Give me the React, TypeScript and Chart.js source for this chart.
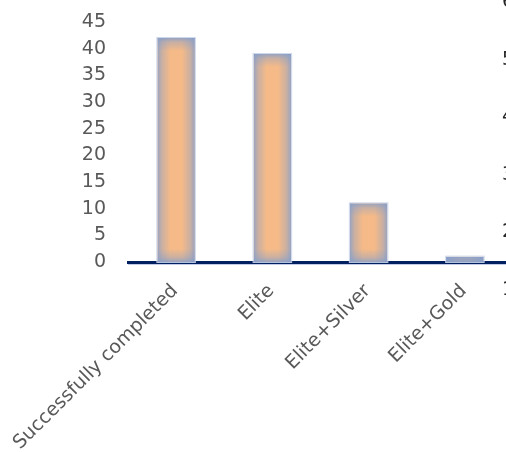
import React, { useEffect, useRef } from "react";
import { Chart, registerables } from "chart.js";

Chart.register(...registerables);

const categories = ["Successfully completed", "Elite", "Elite+Silver", "Elite+Gold"];
const values = [42, 39, 11, 1];
const yMin = 0;
const yMax = 45;
const yStep = 5;
// clipped tick labels of a neighbouring chart, visible at the right edge
const neighbourTicks = ["6", "5", "4", "3", "2", "1"];

const FONT = "'DejaVu Sans', sans-serif";

function edgeGrad(ctx: any, x0: number, y0: number, x1: number, y1: number) {
  const grad = ctx.createLinearGradient(x0, y0, x1, y1);
  grad.addColorStop(0, "rgba(130,158,205,0.8)");
  grad.addColorStop(0.35, "rgba(130,158,205,0.38)");
  grad.addColorStop(1, "rgba(130,158,205,0)");
  return grad;
}

const glowPlugin = {
  id: "barGlow",
  afterDatasetsDraw(chart: any) {
    const ctx = chart.ctx;
    const meta = chart.getDatasetMeta(0);
    meta.data.forEach((el: any) => {
      const { x, y, base, width } = el.getProps(["x", "y", "base", "width"], true);
      const left = x - width / 2;
      const right = x + width / 2;
      const top = Math.min(y, base);
      const bottom = Math.max(y, base);
      const h = bottom - top;
      const g = 13;
      ctx.save();
      ctx.beginPath();
      ctx.rect(left, top, right - left, h);
      ctx.clip();
      ctx.fillStyle = edgeGrad(ctx, left, 0, left + g, 0);
      ctx.fillRect(left, top, g, h);
      ctx.fillStyle = edgeGrad(ctx, right, 0, right - g, 0);
      ctx.fillRect(right - g, top, g, h);
      ctx.fillStyle = edgeGrad(ctx, 0, top, 0, top + g);
      ctx.fillRect(left, top, right - left, Math.min(g, h));
      ctx.fillStyle = edgeGrad(ctx, 0, bottom, 0, bottom - g);
      ctx.fillRect(left, Math.max(top, bottom - g), right - left, Math.min(g, h));
      ctx.restore();
      ctx.save();
      ctx.strokeStyle = "rgba(200,212,234,0.9)";
      ctx.lineWidth = 1;
      ctx.strokeRect(left - 0.5, top - 0.5, width + 1, h + 1);
      ctx.restore();
    });
  },
  afterDraw(chart: any) {
    const { ctx, chartArea } = chart;
    ctx.save();
    ctx.strokeStyle = "rgba(190,200,225,0.9)";
    ctx.lineWidth = 1;
    ctx.beginPath();
    ctx.moveTo(chartArea.left, chartArea.bottom + 2.5);
    ctx.lineTo(chartArea.right, chartArea.bottom + 2.5);
    ctx.stroke();
    ctx.restore();
  },
};

export default function App() {
  const ref = useRef<HTMLCanvasElement | null>(null);

  useEffect(() => {
    if (!ref.current) return;
    const chart = new Chart(ref.current, {
      type: "bar",
      data: {
        labels: categories,
        datasets: [
          {
            data: values,
            backgroundColor: "#F5BA88",
            borderWidth: 0,
            barPercentage: 0.39,
            categoryPercentage: 1,
          },
        ],
      },
      options: {
        animation: false,
        responsive: false,
        maintainAspectRatio: false,
        devicePixelRatio: 1,
        layout: { padding: { top: 22, left: 0, right: 0, bottom: 0 } },
        plugins: { legend: { display: false }, tooltip: { enabled: false } },
        scales: {
          x: {
            grid: { display: false, drawTicks: false },
            border: { display: true, color: "#002060", width: 3 },
            ticks: {
              maxRotation: 45,
              minRotation: 45,
              autoSkip: false,
              padding: 18,
              labelOffset: -1,
              color: "#595959",
              font: { family: FONT, size: 19 },
            },
            afterFit(scale: any) {
              scale.height = 190;
              scale.paddingLeft = 0;
              scale.paddingRight = 0;
            },
          },
          y: {
            min: yMin,
            max: yMax,
            grid: { display: false, drawTicks: false },
            border: { display: false },
            ticks: {
              stepSize: yStep,
              autoSkip: false,
              padding: 22,
              color: "#595959",
              font: { family: FONT, size: 19 },
            },
            afterFit(scale: any) {
              scale.width = 128;
              scale.paddingTop = 0;
              scale.paddingBottom = 0;
            },
          },
        },
      },
      plugins: [glowPlugin],
    });
    return () => chart.destroy();
  }, []);

  return (
    <div
      style={{
        position: "fixed",
        left: 0,
        top: 0,
        width: 506,
        height: 452,
        overflow: "hidden",
        background: "#fff",
      }}
    >
      <canvas ref={ref} width={513} height={452} style={{ position: "absolute", left: 0, top: 0 }} />
      {neighbourTicks.map((t, i) => (
        <span
          key={t}
          style={{
            position: "absolute",
            left: 502,
            top: i * 57.5 - 11,
            fontFamily: FONT,
            fontSize: 19,
            lineHeight: "22px",
            color: "#262626",
          }}
        >
          {t}
        </span>
      ))}
    </div>
  );
}
